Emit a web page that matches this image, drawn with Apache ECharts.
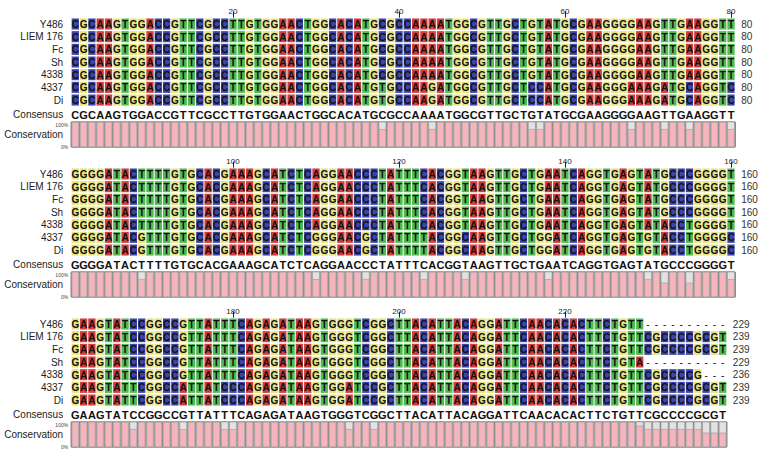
<!DOCTYPE html>
<html><head><meta charset="utf-8">
<script src="https://cdn.jsdelivr.net/npm/echarts@6/dist/echarts.min.js"></script>
<style>html,body{margin:0;padding:0;background:#fff}#c{width:762px;height:451px}</style>
</head><body><div id="c"></div>
<script>
// ---------------- data ----------------
const seqNames = ['Y486', 'LIEM 176', 'Fc', 'Sh', '4338', '4337', 'Di'];

const block1Rows = [
  'CGCAAGTGGACCGTTCGCCTTGTGGAACTGGCACATGCGCCAAAATGGCGTTGCTGTATGCGAAGGGGAAGTTGAAGGTT',
  'CGCAAGTGGACCGTTCGCCTTGTGGAACTGGCACATGCGCCAAAATGGCGTTGCTGTATGCGAAGGGGAAGTTGAAGGTT',
  'CGCAAGTGGACCGTTCGCCTTGTGGAACTGGCACATGCGCCAAAATGGCGTTGCTGTATGCGAAGGGGAAGTTGAAGGTT',
  'CGCAAGTGGACCGTTCGCCTTGTGGAACTGGCACATGCGCCAAAATGGCGTTGCTGTATGCGAAGGGGAAGTTGAAGGTT',
  'CGCAAGTGGACCGTTCGCCTTGTGGAACTGGCACATGCGCCAAAATGGCGTTGCTGTATGCGAAGGGGAAGTTGAAGGTT',
  'CGCAAGTGGACCGTTCGCCTTGTGGAACTGGCACATGTGCCAAGATGGCGTTGCTCCATGCGAAGGGAAAGATGCAGGTC',
  'CGCAAGTGGACCGTTCGCCTTGTGGAACTGGCACATGTGCCAAGATGGCGTTGCTCCATGCGAAGGGAAAGATGCAGGTC'
];
const block2Rows = [
  'GGGGATACTTTTGTGCACGAAAGCATCTCAGGAACCCTATTTCACGGTAAGTTGCTGAATCAGGTGAGTATGCCCGGGGT',
  'GGGGATACTTTTGTGCACGAAAGCATCTCAGGAACCCTATTTCACGGTAAGTTGCTGAATCAGGTGAGTATGCCCGGGGT',
  'GGGGATACTTTTGTGCACGAAAGCATCTCAGGAACCCTATTTCACGGTAAGTTGCTGAATCAGGTGAGTATGCCCGGGGT',
  'GGGGATACTTTTGTGCACGAAAGCATCTCAGGAACCCTATTTCACGGTAAGTTGCTGAATCAGGTGAGTATGCCCGGGGT',
  'GGGGATACTTTTGTGCACGAAAGCATCTCAGGAACCCTATTTCACGGTAAGTTGCTGAATCAGGTGAGTATACCTGGGGT',
  'GGGGATACGTTTGTGCACGAAAGCATCTCGGGAACGCTATTTTACGGCAAGTTGCTGGATCAGGTGAGTGTACCTGGGGC',
  'GGGGATACGTTTGTGCACGAAAGCATCTCGGGAACGCTATTTTACGGCAAGTTGCTGGATCAGGTGAGTGTACCTGGGGC'
];
const block3Rows = [
  'GAAGTATCCGGCCGTTATTTCAGAGATAAGTGGGTCGGCTTACATTACAGGATTCAACACACTTCTGTT----------',
  'GAAGTATCCGGCCGTTATTTCAGAGATAAGTGGGTCGGCTTACATTACAGGATTCAACACACTTCTGTTCGCCCCGCGT',
  'GAAGTATCCGGCCGTTATTTCAGAGATAAGTGGGTCGGCTTACATTACAGGATTCAACACACTTCTGTTCGCCCCGCGT',
  'GAAGTATCCGGCCGTTATTTCAGAGATAAGTGGGTCGGCTTACATTACAGGATTCAACACACTTCTGTA----------',
  'GAAGTATCCGGCCGTTATTTCAGAGATAAGTGGGTCGGCTTACATTACAGGATTCAACACACTTCTGTTCGCCCCG---',
  'GAAGTATTCGGCCATTATCCCAGAGATAAGTGGATCCGCTTACATTACAGGATTCAACACACTTCTGTTCGCCCCGCGT',
  'GAAGTATTCGGCCATTATCCCAGAGATAAGTGGATCCGCTTACATTACAGGATTCAACACACTTCTGTTCGCCCCGCGT'
];

const consensus1 = 'CGCAAGTGGACCGTTCGCCTTGTGGAACTGGCACATGCGCCAAAATGGCGTTGCTGTATGCGAAGGGGAAGTTGAAGGTT';
const consensus2 = 'GGGGATACTTTTGTGCACGAAAGCATCTCAGGAACCCTATTTCACGGTAAGTTGCTGAATCAGGTGAGTATGCCCGGGGT';
const consensus3 = 'GAAGTATCCGGCCGTTATTTCAGAGATAAGTGGGTCGGCTTACATTACAGGATTCAACACACTTCTGTTCGCCCCGCGT';

// conservation: number of the 7 sequences agreeing with consensus, per column
const conservation1 = '7777777777' + '7777777777' + '7777777777' + '7777777577' + '7775777777' + '7777755777' + '7777777577' + '7577577775';
const conservation2 = '7777777757' + '7777777777' + '7777777775' + '7777757777' + '7757777577' + '7777777577' + '7777777775' + '7477477775';
const conservation3 = '7777777577' + '7775777755' + '7777777777' + '7775775777' + '7777777777' + '7777777777' + '7777777765' + '555555444';

const blockStarts = [1, 81, 161];
const tickLabels1 = [20, 40, 60, 80];
const tickLabels2 = [100, 120, 140, 160];
const tickLabels3 = [180, 200, 220];
const endNumbers1 = ['80', '80', '80', '80', '80', '80', '80'];
const endNumbers2 = ['160', '160', '160', '160', '160', '160', '160'];
const endNumbers3 = ['229', '239', '239', '229', '236', '239', '239'];

const baseColors = { A: '#cf3e3b', C: '#3d45a9', G: '#e7e37c', T: '#52ba52' };

// ---------------- layout ----------------
const FONT = 'Liberation Sans, Arial, sans-serif';
const colW = 8.3, rowH = 12.67, leftX = 71.15;
const seqTop = 17.67, consTop = 108.6, consvTop = 122, consvH = 25, pitch = 150;

const blocks = [
  { rows: block1Rows, cons: consensus1, consv: conservation1, start: blockStarts[0], ticks: tickLabels1, ends: endNumbers1 },
  { rows: block2Rows, cons: consensus2, consv: conservation2, start: blockStarts[1], ticks: tickLabels2, ends: endNumbers2 },
  { rows: block3Rows, cons: consensus3, consv: conservation3, start: blockStarts[2], ticks: tickLabels3, ends: endNumbers3 }
];

const option = { animation: false, grid: [], xAxis: [], yAxis: [], series: [] };

blocks.forEach((bk, b) => {
  const n = bk.cons.length;
  const off = b * pitch;
  const w = n * colW;
  const positions = bk.cons.split('').map((_, i) => String(bk.start + i));
  const showTick = (i) => bk.ticks.indexOf(bk.start + i) >= 0;

  // ---- sequence grid ----
  const gSeq = option.grid.length;
  option.grid.push({ left: leftX, top: seqTop + off, width: w, height: rowH * 7, outerBoundsMode: 'none' });
  option.xAxis.push({
    type: 'category', gridIndex: gSeq, data: positions, position: 'top',
    axisLine: { show: false },
    axisTick: { show: true, interval: showTick, alignWithLabel: true, length: 6, lineStyle: { color: '#222', width: 1 } },
    axisLabel: { interval: showTick, fontSize: 8, margin: 2, color: '#222', fontFamily: FONT },
    splitLine: { show: false }
  });
  const ySeq = option.yAxis.length;
  option.yAxis.push({
    type: 'category', gridIndex: gSeq, data: seqNames, inverse: true,
    axisLine: { show: false }, axisTick: { show: false }, splitLine: { show: false },
    axisLabel: { interval: 0, fontSize: 10, margin: 8, color: '#222', fontFamily: FONT }
  });
  option.yAxis.push({
    type: 'category', gridIndex: gSeq, data: bk.ends, inverse: true, position: 'right',
    axisLine: { show: false }, axisTick: { show: false }, splitLine: { show: false },
    axisLabel: { interval: 0, fontSize: 10, margin: 6, color: '#333', fontFamily: FONT }
  });
  const cellData = [], cellLetters = [];
  bk.rows.forEach((row, r) => {
    row.split('').forEach((ch, i) => { cellData.push([i, r]); cellLetters.push(ch); });
  });
  option.series.push({
    type: 'custom', xAxisIndex: gSeq, yAxisIndex: ySeq, data: cellData, silent: true,
    encode: { x: 0, y: 1 },
    renderItem: (params, api) => {
      const ch = cellLetters[params.dataIndex];
      const p = api.coord([api.value(0), api.value(1)]);
      const sz = api.size([1, 1]);
      const cw = sz[0], chh = sz[1];
      const children = [];
      if (ch !== '-') {
        children.push({ type: 'rect', shape: { x: p[0] - cw / 2 + 0.5, y: p[1] - chh / 2 + 0.8, width: cw - 1, height: chh - 1.6 }, style: { fill: baseColors[ch] } });
      }
      children.push({ type: 'text', style: { text: ch, x: p[0], y: p[1] + 0.5, align: 'center', verticalAlign: 'middle', fontSize: 10, fontWeight: ch === '-' ? 'normal' : 'bold', fontFamily: FONT, fill: '#111' } });
      return { type: 'group', children: children };
    }
  });

  // ---- consensus grid ----
  const gCons = option.grid.length;
  option.grid.push({ left: leftX, top: consTop + off, width: w, height: rowH, outerBoundsMode: 'none' });
  option.xAxis.push({ type: 'category', gridIndex: gCons, data: positions, show: false });
  const yCons = option.yAxis.length;
  option.yAxis.push({
    type: 'category', gridIndex: gCons, data: ['Consensus'],
    axisLine: { show: false }, axisTick: { show: false }, splitLine: { show: false },
    axisLabel: { interval: 0, fontSize: 10, margin: 8, color: '#222', fontFamily: FONT }
  });
  const consLetters = bk.cons.split('');
  option.series.push({
    type: 'custom', xAxisIndex: gCons, yAxisIndex: yCons, silent: true,
    data: consLetters.map((_, i) => [i, 0]), encode: { x: 0, y: 1 },
    renderItem: (params, api) => {
      const p = api.coord([api.value(0), api.value(1)]);
      return { type: 'text', style: { text: consLetters[params.dataIndex], x: p[0], y: p[1], align: 'center', verticalAlign: 'middle', fontSize: 11, fontWeight: 'bold', fontFamily: FONT, fill: '#111' } };
    }
  });

  // ---- conservation grid ----
  const gCv = option.grid.length;
  option.grid.push({ left: leftX, top: consvTop + off, width: w, height: consvH, show: true, backgroundColor: '#8d8d8d', borderColor: '#555', borderWidth: 1, outerBoundsMode: 'none' });
  option.xAxis.push({ type: 'category', gridIndex: gCv, data: positions, show: false });
  const yCv = option.yAxis.length;
  option.yAxis.push({
    type: 'value', gridIndex: gCv, min: 0, max: 1, interval: 1,
    name: 'Conservation', nameLocation: 'middle', nameRotate: 0, nameGap: 8, nameMoveOverlap: false,
    nameTextStyle: { fontSize: 10, color: '#222', fontFamily: FONT, align: 'right', verticalAlign: 'middle', padding: [4, 0, 0, 0] },
    axisLine: { show: false }, axisTick: { show: false }, splitLine: { show: false },
    axisLabel: {
      fontSize: 5, margin: 3, color: '#444', fontFamily: FONT,
      formatter: (v) => (v === 1 ? '{a|100%}' : '{b|0%}'),
      rich: { a: { fontSize: 5, color: '#444', padding: [5, 0, 0, 0] }, b: { fontSize: 5, color: '#444', padding: [0, 0, 0, 0] } }
    }
  });
  option.series.push({
    type: 'bar', xAxisIndex: gCv, yAxisIndex: yCv, silent: true,
    data: bk.consv.split('').map((d) => Number(d) / 7),
    barCategoryGap: '14%',
    itemStyle: { color: '#f6b4bc', borderColor: '#9a9a9a', borderWidth: 0.6 },
    showBackground: true,
    backgroundStyle: { color: '#e2e2e2', borderColor: '#9a9a9a', borderWidth: 0.6 }
  });
});

const chart = echarts.init(document.getElementById('c'), null, { renderer: 'svg' });
chart.setOption(option);
</script>
</body></html>
